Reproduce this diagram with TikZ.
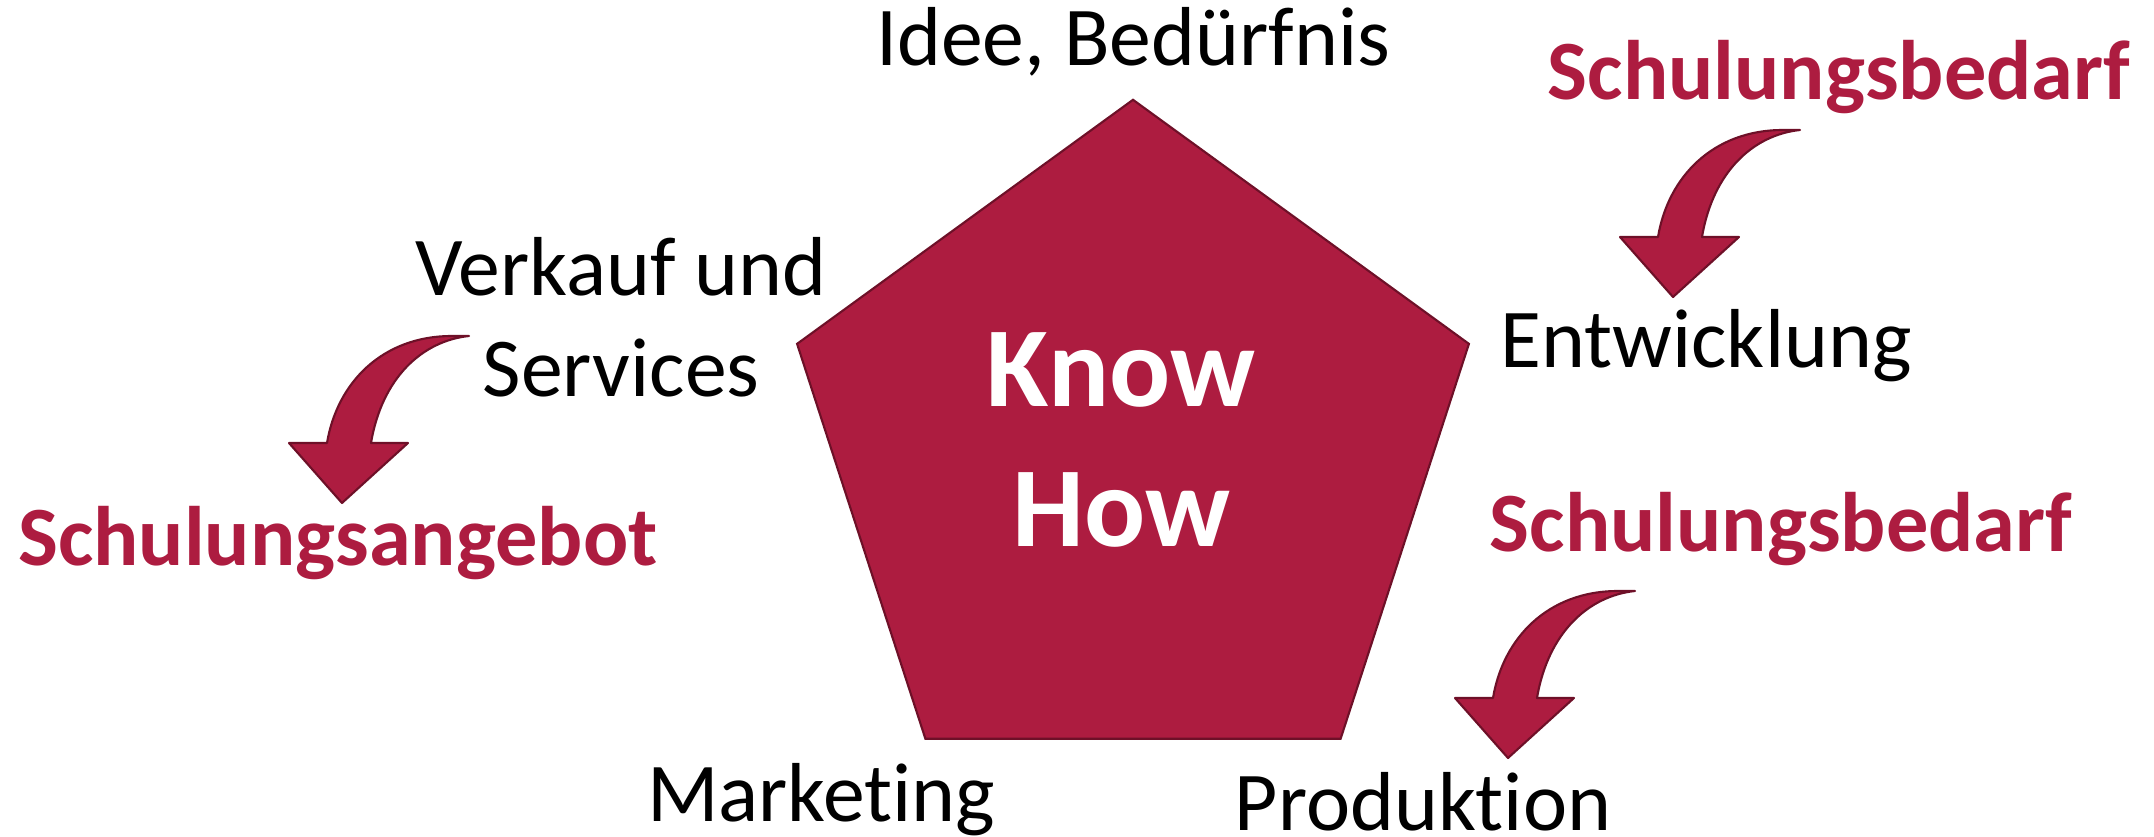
\documentclass[tikz,border=0pt]{standalone}
\usepackage{fontspec}
\setmainfont{Carlito}[RawFeature={-liga;-clig;-dlig;-calt}]
\usetikzlibrary{shapes.geometric}

\definecolor{khrot}{RGB}{173,28,64}
\definecolor{khrand}{RGB}{110,16,40}

\tikzset{
  etikett/.style={anchor=base, inner sep=0pt, font=\fontsize{23.8}{28.6}\selectfont},
  schulung/.style={anchor=base, inner sep=0pt, text=khrot, font=\fontsize{24}{29}\selectfont\bfseries},
  bogenpfeil/.pic={
    \draw[fill=khrot, draw=khrand, line width=0.6pt, line join=round]
      (0,0) -- (-53,-60) -- (-15,-60)
      .. controls (-5,-120) and (40,-167) .. (110,-167) -- (127,-167)
      .. controls (80,-162) and (40,-125) .. (29,-60) -- (66,-60) -- cycle;
  }
}

\begin{document}
\begin{tikzpicture}[x=0.01cm, y=-0.01cm]
        \useasboundingbox (0,0) rectangle (2154,837);

        % Fuenfeck in der Mitte
        \node[regular polygon, regular polygon sides=5, minimum size=7.06cm,
              inner sep=0pt, outer sep=0pt, fill=khrot, draw=khrand, line width=0.6pt]
              (penta) at (1133,453) {};
        \node[align=center, text=white, inner sep=0pt,
              font=\fontsize{32.4}{39.8}\selectfont\bfseries]
              (knowhow) at (1121,440) {Know\\How};

        % Stationen
        \node[etikett] (idee) at (1133,66) {Idee, Bedürfnis};
        \node[etikett] (entw) at (1706,368) {Entwicklung};
        \node[etikett] (prod) at (1423,830) {Produktion};
        \node[etikett] (mark) at (821,821) {Marketing};
        \node[etikett, anchor=center, align=center,
              font=\fontsize{23.8}{28.6}\selectfont] (verk) at (621,317) {Verkauf und\\Services};

        % Schulungen
        \node[schulung] (bedarfA) at (1839,100) {Schulungsbedarf};
        \node[schulung] (bedarfB) at (1781,552) {Schulungsbedarf};
        \node[schulung] (angebot) at (338,566) {Schulungsangebot};

        \pic (pfeilA) at (1673,297) {bogenpfeil};
        \pic (pfeilB) at (1508,758) {bogenpfeil};
        \pic (pfeilC) at (342,503) {bogenpfeil};
\end{tikzpicture}
\end{document}
